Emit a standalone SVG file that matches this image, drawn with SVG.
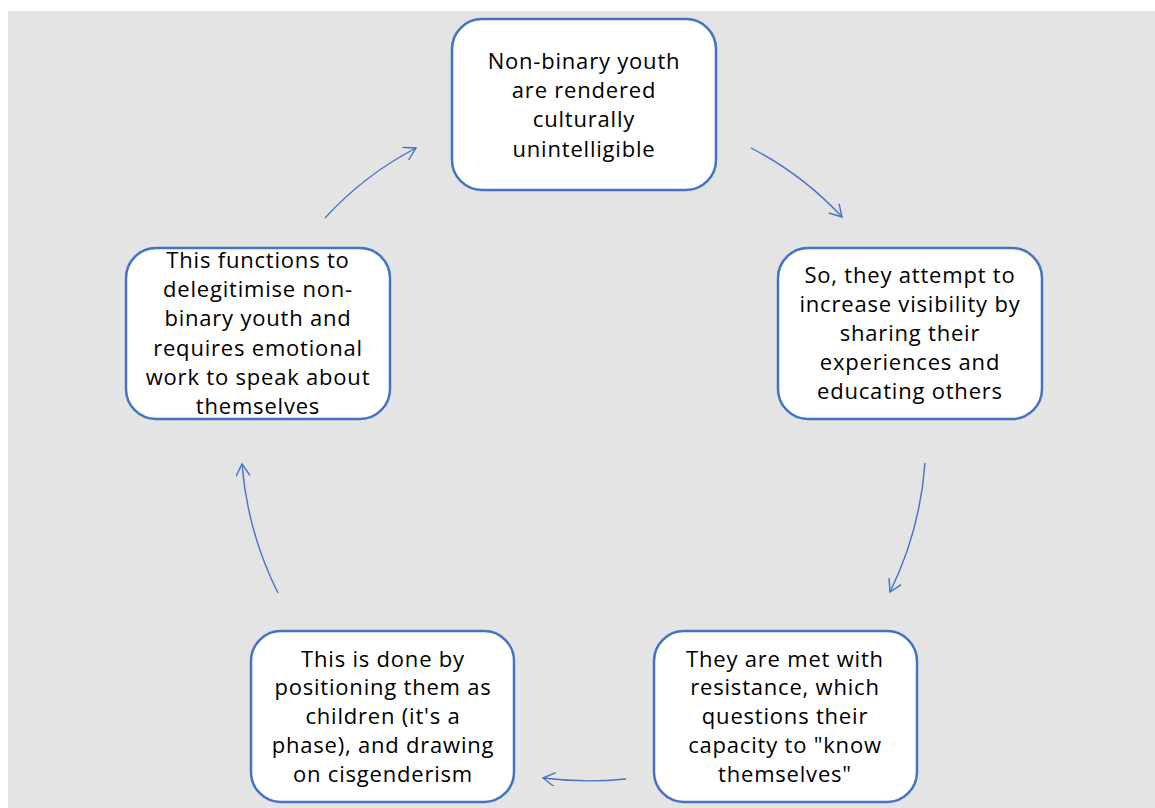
<svg xmlns="http://www.w3.org/2000/svg" width="1155" height="808" viewBox="0 0 1155 808">
<style>
.box{fill:#fff;stroke:#4472c4;stroke-width:2.5}
.t{font-family:"Open Sans","Liberation Sans",sans-serif;font-size:22px;letter-spacing:0.8px;fill:#000;text-anchor:middle}
.c{fill:none;stroke:#4472c4;stroke-width:1.4}
</style>
<defs>
<marker id="ah" markerWidth="20" markerHeight="20" refX="14" refY="7" orient="auto" markerUnits="userSpaceOnUse">
<path d="M2,0 L14,7 L2,14" fill="none" stroke="#4472c4" stroke-width="1.4"/>
</marker>
</defs>
<rect x="8" y="11" width="1147" height="797" fill="#e4e4e4"/>
<g id="connectors">
<path class="c" d="M751,148 A330,330 0 0 1 842,217" marker-end="url(#ah)"/>
<path class="c" d="M925,463 A350,350 0 0 1 890,592" marker-end="url(#ah)"/>
<path class="c" d="M626,779 A370,370 0 0 1 543,778" marker-end="url(#ah)"/>
<path class="c" d="M278,593 A350,350 0 0 1 242,464" marker-end="url(#ah)"/>
<path class="c" d="M325,218 A330,330 0 0 1 416,148" marker-end="url(#ah)"/>
</g>
<g id="n1">
<rect class="box" x="452" y="19" width="264" height="171" rx="30"/>
<text class="t" x="584" y="69">Non-binary youth</text>
<text class="t" x="584" y="98">are rendered</text>
<text class="t" x="584" y="127">culturally</text>
<text class="t" x="584" y="157">unintelligible</text>
</g>
<g id="n2">
<rect class="box" x="778" y="248" width="264" height="171" rx="30"/>
<text class="t" x="910" y="283">So, they attempt to</text>
<text class="t" x="910" y="312">increase visibility by</text>
<text class="t" x="910" y="341">sharing their</text>
<text class="t" x="910" y="370">experiences and</text>
<text class="t" x="910" y="399">educating others</text>
</g>
<g id="n3">
<rect class="box" x="654" y="631" width="263" height="171" rx="30"/>
<text class="t" x="785" y="667">They are met with</text>
<text class="t" x="785" y="695">resistance, which</text>
<text class="t" x="785" y="724">questions their</text>
<text class="t" x="785" y="753">capacity to "know</text>
<text class="t" x="785" y="782">themselves"</text>
</g>
<g id="n4">
<rect class="box" x="251" y="631" width="263" height="171" rx="30"/>
<text class="t" x="383" y="667">This is done by</text>
<text class="t" x="383" y="695">positioning them as</text>
<text class="t" x="383" y="724">children (it's a</text>
<text class="t" x="383" y="753">phase), and drawing</text>
<text class="t" x="383" y="782">on cisgenderism</text>
</g>
<g id="n5">
<rect class="box" x="126" y="248" width="264" height="171" rx="30"/>
<text class="t" x="258" y="268">This functions to</text>
<text class="t" x="258" y="297">delegitimise non-</text>
<text class="t" x="258" y="326">binary youth and</text>
<text class="t" x="258" y="356">requires emotional</text>
<text class="t" x="258" y="385">work to speak about</text>
<text class="t" x="258" y="414">themselves</text>
</g>
</svg>
